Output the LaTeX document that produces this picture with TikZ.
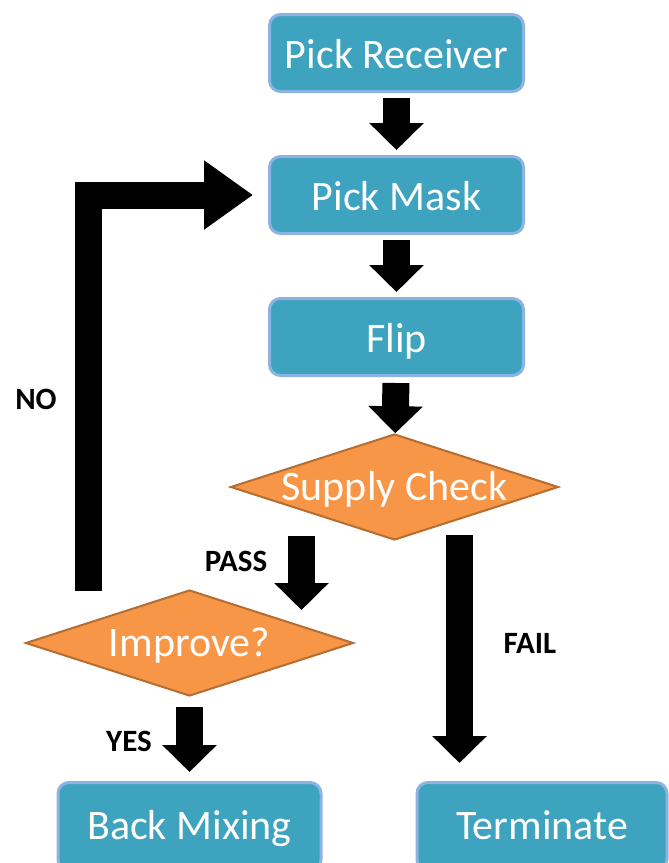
\documentclass[tikz,border=0pt]{standalone}
\usepackage{fontspec}
\setmainfont{Carlito}
\usepackage{xcolor}
\usepackage{tikz}
\usetikzlibrary{shapes,arrows,positioning,calc,arrows.meta}
\definecolor{boxfill}{RGB}{62,163,190}
\definecolor{boxline}{RGB}{141,179,226}
\definecolor{dfill}{RGB}{247,150,70}
\definecolor{dline}{RGB}{182,109,49}

\begin{document}
\begin{tikzpicture}[x=1pt, y=-1pt, node distance=62pt,
        block/.style={draw=boxline, fill=boxfill, line width=3pt, rounded corners=11pt, minimum width=254pt, minimum height=77pt, inner sep=0pt, text=white, font=\fontsize{42}{50}\selectfont, text height=31pt, text depth=0pt},
        decision/.style={diamond, draw=dline, fill=dfill, line width=2pt, aspect=3, minimum width=328pt, minimum height=106pt, inner sep=0pt, text=white, font=\fontsize{42}{50}\selectfont, text height=27pt, text depth=0pt},
        bigarrow/.style={line width=27pt, -{Triangle[width=53pt,length=27pt]}},
        tag/.style={font=\fontsize{31}{37}\selectfont\bfseries}
    ]
        \useasboundingbox (0,0) rectangle (669,863);

        \node [block] (recv) at (396.5,53) {Pick Receiver};
        \node [block, below=of recv] (mask) {Pick Mask};
        \node [block, below=of mask] (flip) {Flip};
        \node [decision, below=56pt of flip, xshift=-2pt] (check) {Supply Check};
        \node [decision, below=48pt of check, xshift=-205pt] (improve) {Improve?};
        \node [block, minimum width=263pt, minimum height=88pt, text depth=6pt, below=84pt of improve] (back) {Back Mixing};
        \node [block, minimum width=250pt, minimum height=88pt, text depth=6pt, right=93pt of back] (term) {Terminate};

        \coordinate (passtop) at ($(check.south)+(-93,-5)$);
        \coordinate (failtop) at ($(check.south)+(65,-6)$);
        \coordinate (notop) at ($(improve.north)+(-101,2)$);

        \draw [bigarrow, shorten <=5pt, shorten >=5pt] (recv) -- (mask);
        \draw [bigarrow, shorten <=5pt, shorten >=5pt] (mask) -- (flip);
        \draw [bigarrow, shorten <=6pt] (flip) -- (check);
        \draw [bigarrow] (passtop) -- ($(passtop |- improve.north)+(0,21)$);
        \draw [bigarrow, shorten >=18pt] (failtop) -- (failtop |- term.north);
        \draw [bigarrow, shorten <=10pt, shorten >=9pt] (improve) -- (back);
        \draw [bigarrow, -{Triangle[width=66pt,length=49pt]}, line join=miter, shorten >=15pt] (notop) |- (mask.west);

        \node [tag] (nolbl) at (36,399) {NO};
        \node [tag] (passlbl) at (236,561) {PASS};
        \node [tag] (yeslbl) at (129,741) {YES};
        \node [tag] (faillbl) at (530,643) {FAIL};
    \end{tikzpicture}
\end{document}
